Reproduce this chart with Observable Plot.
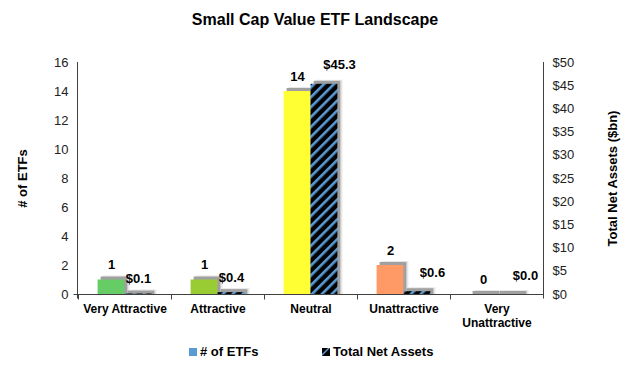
<!DOCTYPE html>
<html><head><meta charset="utf-8">
<script src="https://cdn.jsdelivr.net/npm/d3@7"></script>
<script src="https://cdn.jsdelivr.net/npm/@observablehq/plot@0.6"></script>
<style>
body{margin:0;background:#fff;font-family:"Liberation Sans",Arial,sans-serif;}
#wrap{width:630px;height:368px;position:relative;overflow:hidden;}
#title{height:40px;line-height:40px;text-align:center;font-weight:bold;font-size:16px;color:#000;}
#legend{position:absolute;top:343px;left:0;width:630px;height:20px;font-size:13px;font-weight:bold;color:#000;}
.li{position:absolute;top:0;line-height:18px;white-space:nowrap;}
.sw{display:inline-block;width:8px;height:8px;margin-right:3px;vertical-align:0px;}
</style></head><body>
<div id="wrap">
<div id="title">Small Cap Value ETF Landscape</div>
<div id="chart"></div>
<div id="legend">
<div class="li" style="left:189px"><span class="sw" style="background:#5B9BD5"></span># of ETFs</div>
<div class="li" style="left:322px"><svg class="sw" width="8" height="8" style="margin-right:3px"><rect width="8" height="8" fill="#000"/><path d="M6,0 L8,0 L0,8 L0,6 Z" fill="#5B9BD5"/></svg>Total Net Assets</div>
</div>
</div>
<script>
const categories = ["Very Attractive", "Attractive", "Neutral", "Unattractive", "Very Unattractive"];
const etfCounts = [1, 1, 14, 2, 0];
const netAssets = [0.1, 0.4, 45.3, 0.6, 0.0];
const barColors = ["#66CC66", "#99CC33", "#FFFF33", "#FF9966", "#5B9BD5"];
const countTicks = [0, 2, 4, 6, 8, 10, 12, 14, 16];
const assetTicks = [0, 5, 10, 15, 20, 25, 30, 35, 40, 45, 50];
const assetLabels = ["$0.1", "$0.4", "$45.3", "$0.6", "$0.0"];

const k = 16 / 50; // right axis ($bn) mapped onto left axis (count) scale
const data = categories.map((c, i) => ({cat: c, count: etfCounts[i], assets: netAssets[i] * k, color: barColors[i], alabel: assetLabels[i], i}));

const W = 630, H = 290, mL = 77, mR = 87, mT = 22, mB = 36;
const bw = (W - mL - mR) / categories.length;
const barW = 27;
const outer = (bw - 2 * barW) / 2;
const font = "'Liberation Sans', Arial, sans-serif";

function axisLines(index, scales, values, dim) {
  const g = d3.create("svg:g").attr("stroke", "#404040").attr("stroke-width", 1).attr("fill", "none");
  const x0 = dim.marginLeft + 0.5, x1 = dim.width - dim.marginRight + 0.5;
  const yTop = dim.marginTop, yBot = dim.height - dim.marginBottom + 0.5;
  g.append("line").attr("x1", x0).attr("x2", x0).attr("y1", yTop).attr("y2", yBot + 4);
  g.append("line").attr("x1", x1).attr("x2", x1).attr("y1", yTop).attr("y2", yBot + 4);
  g.append("line").attr("x1", x0 - 4).attr("x2", x1).attr("y1", yBot).attr("y2", yBot);
  const xs = scales.x;
  categories.forEach(c => {
    const xx = Math.round(xs(c)) + 0.5;
    g.append("line").attr("x1", xx).attr("x2", xx).attr("y1", yBot).attr("y2", yBot + 5);
  });
  return g.node();
}

const shadow = (field, left, right, color, off, up) => Plot.barY(data, {
  x: "cat", y: field, fill: color,
  insetLeft: left + off, insetRight: right - off, insetTop: -up
});

const chart = Plot.plot({
  width: W, height: H,
  marginLeft: mL, marginRight: mR, marginTop: mT, marginBottom: mB,
  style: {fontFamily: font, background: "transparent", overflow: "visible"},
  x: {domain: categories, padding: 0, axis: null},
  y: {domain: [0, 16], axis: null},
  marks: [
    shadow("count", outer, bw - outer - barW, "#e6e6e6", 5, 4),
    shadow("assets", bw - outer - barW, outer, "#e6e6e6", 5, 4),
    shadow("count", outer, bw - outer - barW, "#a0a0a0", 3, 3),
    shadow("assets", bw - outer - barW, outer, "#a0a0a0", 3, 3),
    Plot.barY(data, {x: "cat", y: "count", fill: "color", insetLeft: outer, insetRight: bw - outer - barW}),
    Plot.barY(data, {x: "cat", y: "assets", fill: "url(#hatch)", insetLeft: bw - outer - barW, insetRight: outer}),
    axisLines,
    Plot.axisY(countTicks, {anchor: "left", tickSize: 0, tickPadding: 9, fontSize: 13, fill: "#222", label: null}),
    Plot.axisY(assetTicks.map(v => v * k), {anchor: "right", tickSize: 0, tickPadding: 9, fontSize: 13, fill: "#222", label: null,
      tickFormat: d => "$" + Math.round(d / k)}),
    Plot.axisX({anchor: "bottom", tickSize: 0, tickPadding: 9, fontSize: 12, fontWeight: "bold", fill: "#000", label: null,
      lineHeight: 1.15, tickFormat: d => d === "Very Unattractive" ? "Very\nUnattractive" : d}),
    Plot.text(data, {x: "cat", y: "count", text: d => String(d.count), dx: -barW / 2, dy: -15,
      fontSize: 13, fontWeight: "bold", fill: "#000"}),
    Plot.text(data.filter(d => d.i < 2), {x: "cat", y: "assets", text: "alabel", dx: barW / 2, dy: -15,
      fontSize: 13, fontWeight: "bold", fill: "#000"}),
    Plot.text(data.filter(d => d.i >= 2), {x: "cat", y: "assets", text: "alabel", dx: barW / 2 + 15, dy: -19,
      fontSize: 13, fontWeight: "bold", fill: "#000"}),
    Plot.text(["# of ETFs"], {frameAnchor: "left", textAnchor: "middle", dx: -55, rotate: -90, fontSize: 13, fontWeight: "bold", fill: "#000"}),
    Plot.text(["Total Net Assets ($bn)"], {frameAnchor: "right", textAnchor: "middle", dx: 69, rotate: -90, fontSize: 13, fontWeight: "bold", fill: "#000"})
  ]
});

chart.insertAdjacentHTML("afterbegin",
  '<defs><pattern id="hatch" patternUnits="userSpaceOnUse" width="7" height="7" patternTransform="rotate(45)">' +
  '<rect width="7" height="7" fill="#000"/><rect x="0" width="2.6" height="7" fill="#5B9BD5"/></pattern></defs>');
document.getElementById("chart").appendChild(chart);
</script>
</body></html>
